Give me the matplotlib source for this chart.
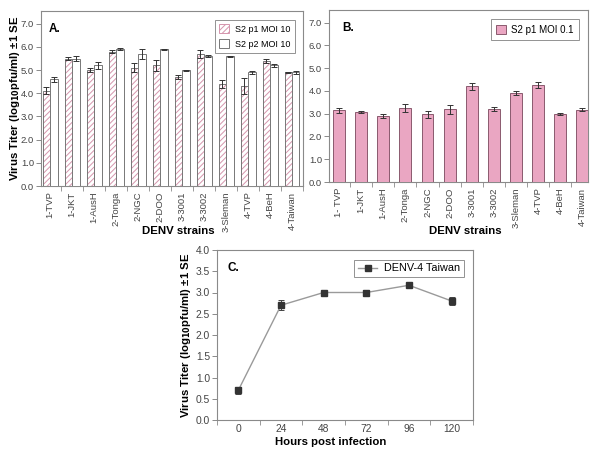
import matplotlib
matplotlib.use("Agg")
import matplotlib.pyplot as plt
import numpy as np
from matplotlib.ticker import FixedLocator
from matplotlib.patches import Patch
from matplotlib import font_manager

plt.rcParams['font.family'] = ['Liberation Sans', 'DejaVu Sans']
plt.rcParams['hatch.linewidth'] = 0.7

_names = {f.name for f in font_manager.fontManager.ttflist}
NARROW = 'Liberation Sans Narrow' if 'Liberation Sans Narrow' in _names else None
narrow_fs = 7.2 if NARROW else 6.8
narrow_family = [NARROW, 'Liberation Sans'] if NARROW else ['Liberation Sans']

strains_a = ["1-TVP", "1-JKT", "1-AusH", "2-Tonga", "2-NGC", "2-DOO", "3-3001",
             "3-3002", "3-Sleman", "4-TVP", "4-BeH", "4-Taiwan"]
p1_moi10 = [4.1, 5.5, 5.0, 5.8, 5.1, 5.2, 4.7, 5.7, 4.4, 4.3, 5.4, 4.9]
p1_moi10_se = [0.15, 0.06, 0.08, 0.07, 0.2, 0.25, 0.07, 0.18, 0.18, 0.35, 0.1, 0.02]
p2_moi10 = [4.6, 5.5, 5.2, 5.9, 5.7, 5.9, 5.0, 5.6, 5.6, 4.9, 5.2, 4.9]
p2_moi10_se = [0.1, 0.1, 0.15, 0.05, 0.22, 0.02, 0.02, 0.05, 0.03, 0.07, 0.05, 0.08]

strains_b = ["1- TVP", "1-JKT", "1-AusH", "2-Tonga", "2-NGC", "2-DOO", "3-3001",
             "3-3002", "3-Sleman", "4-TVP", "4-BeH", "4-Taiwan"]
p1_moi01 = [3.15, 3.07, 2.9, 3.25, 2.97, 3.2, 4.2, 3.2, 3.92, 4.25, 3.0, 3.17]
p1_moi01_se = [0.12, 0.05, 0.08, 0.18, 0.15, 0.2, 0.15, 0.1, 0.08, 0.13, 0.05, 0.07]

hours = ["0", "24", "48", "72", "96", "120"]
taiwan = [0.7, 2.7, 3.0, 3.0, 3.17, 2.8]
taiwan_se = [0.08, 0.12, 0.03, 0.06, 0.03, 0.1]

W, H = 600, 450
fig = plt.figure(figsize=(6, 4.5), dpi=100)

def px_axes(l, t, r, b):
    return fig.add_axes([l / W, 1 - b / H, (r - l) / W, (b - t) / H])

def place_label(ax, axis, px, py, l, t, r, b):
    ax_x = (px - l) / (r - l)
    ax_y = (b - py) / (b - t)
    if axis == 'x':
        ax.xaxis.set_label_coords(ax_x, ax_y)
    else:
        ax.yaxis.set_label_coords(ax_x, ax_y)

spine_c = "#8a8a8a"
lab_fs = 8.2
ylab = r"Virus Titer (log$_{\mathbf{10}}$pfu/ml) ±1 SE"

def style(ax, narrow=True):
    for s in ax.spines.values():
        s.set_color(spine_c)
        s.set_linewidth(0.8)
    ax.tick_params(labelcolor="#444444", length=3.5, width=0.7, color=spine_c)
    ax.tick_params(axis='y', pad=1.5)
    for lab in ax.get_xticklabels() + ax.get_yticklabels():
        if narrow:
            lab.set_family(narrow_family)
            lab.set_fontsize(narrow_fs)
        else:
            lab.set_fontsize(7.4)

ekw = dict(elinewidth=0.7, capsize=2, capthick=0.7, ecolor="#333333")
hatch_c = "#d595ad"

# ---- Panel A ----
A = (41, 11, 303, 186)
axA = px_axes(*A)
x = np.arange(len(strains_a))
bw = 0.34
axA.bar(x - bw / 2, p1_moi10, bw, color="white", edgecolor=hatch_c, hatch="//////", linewidth=0, zorder=2)
axA.bar(x - bw / 2, p1_moi10, bw, yerr=p1_moi10_se, color="none", edgecolor="#777777", linewidth=0.7,
        error_kw=ekw, zorder=3)
axA.bar(x + bw / 2, p2_moi10, bw, yerr=p2_moi10_se, color="white", edgecolor="#777777", linewidth=0.7,
        error_kw=ekw, zorder=3)
axA.set_xlim(-0.42, 11.5)
axA.set_ylim(0, 7.55)
axA.set_yticks(np.arange(0, 7.01, 1.0))
axA.set_yticklabels([f"{v:.1f}" for v in np.arange(0, 7.01, 1.0)])
axA.set_xticks(x)
axA.set_xticklabels(strains_a, rotation=90)
axA.xaxis.set_minor_locator(FixedLocator(np.arange(-0.5, 12, 1)))
style(axA)
axA.tick_params(axis='x', which='major', length=0, pad=4)
axA.tick_params(axis='x', which='minor', length=3.5, color=spine_c)
axA.set_ylabel(ylab, fontsize=lab_fs, fontweight='bold')
axA.set_xlabel("DENV strains", fontsize=lab_fs, fontweight='bold')
place_label(axA, 'y', 22, 98, *A)
place_label(axA, 'x', 178, 226, *A)
axA.text(0.03, 0.93, "A.", transform=axA.transAxes, fontsize=8.5, fontweight='bold', va='top')
hA = [Patch(facecolor="white", edgecolor=hatch_c, hatch="//////", linewidth=0.7),
      Patch(facecolor="white", edgecolor="#777777", linewidth=0.7)]
legA = axA.legend(hA, ["S2 p1 MOI 10", "S2 p2 MOI 10"], loc="upper right", fontsize=6.5,
                  frameon=True, fancybox=False, edgecolor="#777777", borderpad=0.5,
                  handlelength=1.1, handleheight=1.1, handletextpad=0.6, labelspacing=0.6,
                  bbox_to_anchor=(0.985, 0.975))
legA.get_frame().set_linewidth(0.7)

# ---- Panel B ----
B = (329, 10, 588, 182)
axB = px_axes(*B)
xb = np.arange(len(strains_b))
axB.bar(xb, p1_moi01, 0.54, yerr=p1_moi01_se, color="#eaa6c2", edgecolor="#8a5a6e", linewidth=0.7,
        error_kw=ekw, zorder=3)
axB.set_xlim(-0.45, 11.25)
axB.set_ylim(0, 7.55)
axB.set_yticks(np.arange(0, 7.01, 1.0))
axB.set_yticklabels([f"{v:.1f}" for v in np.arange(0, 7.01, 1.0)])
axB.set_xticks(xb)
axB.set_xticklabels(strains_b, rotation=90)
axB.xaxis.set_minor_locator(FixedLocator(np.arange(-0.5, 12, 1)))
style(axB)
axB.tick_params(axis='x', which='major', length=0, pad=4)
axB.tick_params(axis='x', which='minor', length=3.5, color=spine_c)
axB.set_xlabel("DENV strains", fontsize=lab_fs, fontweight='bold')
place_label(axB, 'x', 465, 226, *B)
axB.text(0.05, 0.93, "B.", transform=axB.transAxes, fontsize=8.5, fontweight='bold', va='top')
hB = [Patch(facecolor="#eaa6c2", edgecolor="#8a5a6e", linewidth=0.7)]
legB = axB.legend(hB, ["S2 p1 MOI 0.1"], loc="upper right", fontsize=7,
                  frameon=True, fancybox=False, edgecolor="#777777", borderpad=0.55,
                  handlelength=1.0, handleheight=1.0, handletextpad=0.6,
                  bbox_to_anchor=(0.985, 0.975))
legB.get_frame().set_linewidth(0.7)

# ---- Panel C ----
C = (217, 250, 473, 420)
axC = px_axes(*C)
xc = np.arange(len(hours))
axC.errorbar(xc, taiwan, yerr=taiwan_se, fmt="none", ecolor="#444444",
             elinewidth=0.7, capsize=2, capthick=0.7, zorder=3)
axC.plot(xc, taiwan, color="#9a9a9a", linewidth=1.0, marker="s", markersize=4,
         markerfacecolor="#333333", markeredgecolor="#333333", label="DENV-4 Taiwan", zorder=4)
axC.set_xlim(-0.5, 5.5)
axC.set_ylim(0, 4.0)
axC.set_yticks(np.arange(0, 4.01, 0.5))
axC.set_yticklabels([f"{v:.1f}" for v in np.arange(0, 4.01, 0.5)])
axC.set_xticks(xc)
axC.set_xticklabels(hours)
axC.xaxis.set_minor_locator(FixedLocator(np.arange(-0.5, 6, 1)))
style(axC, narrow=False)
axC.tick_params(axis='x', which='major', length=0, pad=3)
axC.tick_params(axis='x', which='minor', length=3.5, color=spine_c)
axC.set_ylabel(ylab, fontsize=lab_fs, fontweight='bold')
axC.set_xlabel("Hours post infection", fontsize=lab_fs, fontweight='bold')
place_label(axC, 'y', 193, 335, *C)
place_label(axC, 'x', 331, 437, *C)
axC.text(0.04, 0.93, "C.", transform=axC.transAxes, fontsize=8.5, fontweight='bold', va='top')
legC = axC.legend(loc="upper right", fontsize=7.8, frameon=True, fancybox=False, edgecolor="#777777",
                  borderpad=0.35, handlelength=1.8, handletextpad=0.6, bbox_to_anchor=(0.985, 0.975))
legC.get_frame().set_linewidth(0.7)

fig.savefig("out.png", dpi=100)
